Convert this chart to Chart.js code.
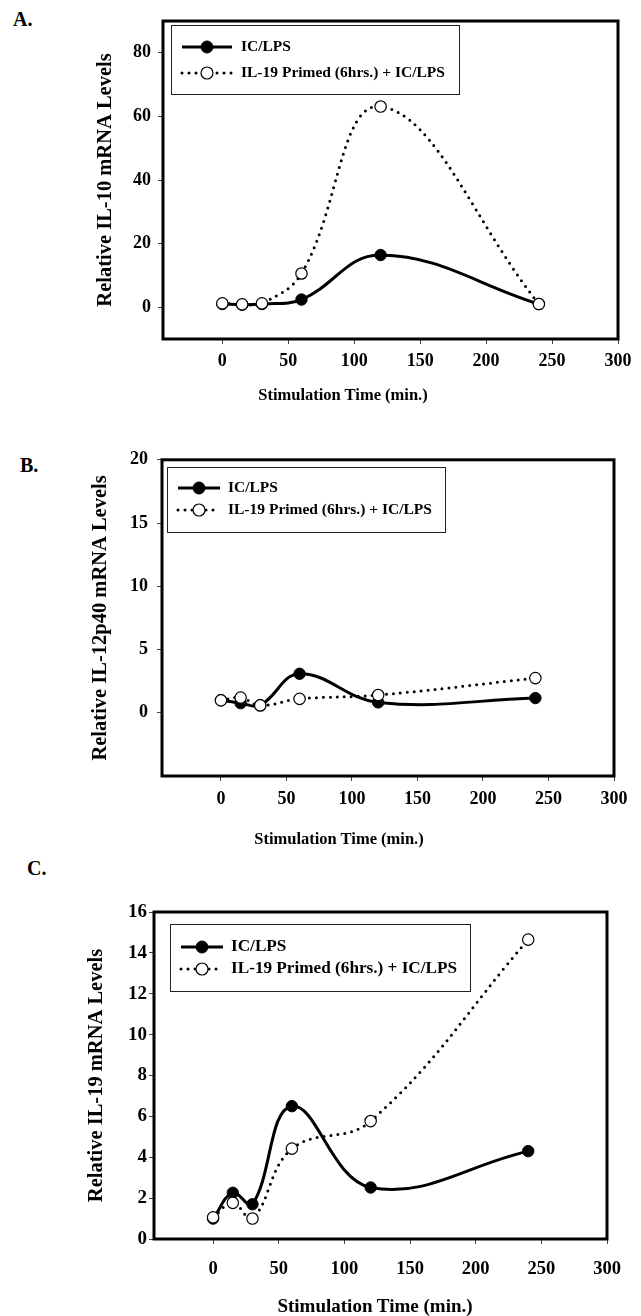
<!DOCTYPE html>
<html><head><meta charset="utf-8">
<script src="https://cdn.jsdelivr.net/npm/chart.js@4.4.1/dist/chart.umd.min.js"></script>
<style>
html,body{margin:0;padding:0;background:#fff;}
body{position:relative;width:641px;height:1316px;overflow:hidden;font-family:'Liberation Serif','Times New Roman',serif;font-weight:bold;color:#000;}
canvas{position:absolute;left:0;}
.lbl{position:absolute;white-space:nowrap;line-height:1;}
.xt{position:absolute;width:360px;text-align:center;white-space:nowrap;line-height:1;}
</style></head><body>
<div class="lbl" style="left:13px;top:9px;font-size:20px">A.</div>
<div class="lbl" style="left:20px;top:455px;font-size:20px">B.</div>
<div class="lbl" style="left:27px;top:858px;font-size:20px">C.</div>
<canvas id="cA" width="641" height="420" style="top:0px"></canvas>
<canvas id="cB" width="641" height="420" style="top:440px"></canvas>
<canvas id="cC" width="641" height="436" style="top:880px"></canvas>
<div class="xt" id="xtA" style="left:163px;top:387px;font-size:16.5px"></div>
<div class="xt" id="xtB" style="left:159px;top:831px;font-size:16.5px"></div>
<div class="xt" id="xtC" style="left:195px;top:1296px;font-size:19px"></div>
<script>
// ---- data ----
const times = [0, 15, 30, 60, 120, 240];
const seriesNames = ['IC/LPS', 'IL-19 Primed (6hrs.) + IC/LPS'];
const il10IcLps  = [1.0, 0.8, 1.0, 2.4, 16.4, 1.0];
const il10Primed = [1.2, 0.9, 1.2, 10.6, 63.1, 1.0];
const il12IcLps  = [1.0, 0.76, 0.6, 3.08, 0.82, 1.16];
const il12Primed = [0.98, 1.2, 0.58, 1.1, 1.4, 2.74];
const il19IcLps  = [1.0, 2.26, 1.7, 6.5, 2.52, 4.3];
const il19Primed = [1.06, 1.77, 1.0, 4.42, 5.77, 14.65];
const xTickValues = [0, 50, 100, 150, 200, 250, 300];
const yTicksA = [0, 20, 40, 60, 80];
const yTicksB = [0, 5, 10, 15, 20];
const yTicksC = [0, 2, 4, 6, 8, 10, 12, 14, 16];
const yTitleA = 'Relative IL-10 mRNA Levels';
const yTitleB = 'Relative IL-12p40 mRNA Levels';
const yTitleC = 'Relative IL-19 mRNA Levels';
const xTitle = 'Stimulation Time (min.)';

document.getElementById('xtA').textContent = xTitle;
document.getElementById('xtB').textContent = xTitle;
document.getElementById('xtC').textContent = xTitle;

const FAM = "'Liberation Serif','Times New Roman',serif";

const framePlugin = {
  id: 'frame',
  beforeDatasetsDraw(chart) {
    const {left, top, right, bottom} = chart.chartArea;
    const ctx = chart.ctx;
    ctx.save();
    ctx.strokeStyle = '#000';
    ctx.lineWidth = 3;
    ctx.strokeRect(left, top, right - left, bottom - top);
    ctx.restore();
  }
};

const boxLegend = {
  id: 'boxLegend',
  afterDraw(chart, args, o) {
    if (!o || !o.rows) return;
    const ctx = chart.ctx;
    ctx.save();
    ctx.fillStyle = '#fff';
    ctx.fillRect(o.x, o.y, o.w, o.h);
    ctx.strokeStyle = '#222';
    ctx.lineWidth = 1;
    ctx.strokeRect(o.x + 0.5, o.y + 0.5, o.w, o.h);
    chart.data.datasets.forEach((ds, i) => {
      const cy = o.rows[i];
      ctx.beginPath();
      ctx.setLineDash(ds.borderDash || []);
      ctx.lineCap = ds.borderCapStyle || 'butt';
      ctx.lineWidth = ds.borderWidth;
      ctx.strokeStyle = ds.borderColor;
      ctx.moveTo(o.x1, cy);
      ctx.lineTo(o.x2, cy);
      ctx.stroke();
      ctx.setLineDash([]);
      ctx.beginPath();
      ctx.arc((o.x1 + o.x2) / 2, cy, o.r, 0, Math.PI * 2);
      ctx.fillStyle = ds.pointBackgroundColor;
      ctx.fill();
      ctx.lineWidth = ds.pointBorderWidth;
      ctx.strokeStyle = ds.pointBorderColor;
      ctx.stroke();
      ctx.fillStyle = '#000';
      ctx.font = 'bold ' + o.fontSize + 'px ' + FAM;
      ctx.textBaseline = 'middle';
      ctx.textAlign = 'left';
      ctx.fillText(ds.label, o.tx, cy);
    });
    ctx.restore();
  }
};

function makeChart(id, P) {
  const solid = {
    label: seriesNames[0],
    data: times.map((t, i) => ({x: t, y: P.s1[i]})),
    borderColor: '#000', borderWidth: 3, tension: 0.4, fill: false,
    pointRadius: 5.7, pointBackgroundColor: '#000', pointBorderColor: '#000', pointBorderWidth: 1,
    order: 1
  };
  const dotted = {
    label: seriesNames[1],
    data: times.map((t, i) => ({x: t, y: P.s2[i]})),
    borderColor: '#000', borderWidth: 3, borderDash: [0, 7], borderCapStyle: 'round', tension: 0.4, fill: false,
    pointRadius: 5.7, pointBackgroundColor: '#fff', pointBorderColor: '#000', pointBorderWidth: 1.2,
    order: 0
  };
  const gridOpt = {display: true, drawOnChartArea: false, drawTicks: true, tickLength: 5, color: '#444', lineWidth: 1};
  return new Chart(document.getElementById(id), {
    type: 'line',
    data: {datasets: [solid, dotted]},
    options: {
      responsive: false, animation: false, devicePixelRatio: 1,
      layout: {padding: {top: P.top, right: P.right, left: 0, bottom: 0}},
      plugins: {legend: {display: false}, tooltip: {enabled: false}, boxLegend: P.legend},
      scales: {
        x: {
          type: 'linear', min: -45, max: 300,
          afterBuildTicks: s => { s.ticks = xTickValues.map(v => ({value: v})); },
          afterFit: s => { s.height = P.xH; },
          border: {display: false},
          grid: gridOpt,
          ticks: {color: '#000', font: {family: FAM, weight: 'bold', size: P.xTickSize}, padding: P.xPad, maxRotation: 0, autoSkip: false}
        },
        y: {
          type: 'linear', min: P.yMin, max: P.yMax,
          afterBuildTicks: s => { s.ticks = P.yTicks.map(v => ({value: v})); },
          afterFit: s => { s.width = P.left; },
          border: {display: false},
          grid: gridOpt,
          title: {display: true, text: P.yTitle, color: '#000', font: {family: FAM, weight: 'bold', size: P.yTitleSize}, padding: {top: P.ytPad, bottom: 0}},
          ticks: {color: '#000', font: {family: FAM, weight: 'bold', size: P.yTickSize}, padding: P.yPad, autoSkip: false}
        }
      }
    },
    plugins: [framePlugin, boxLegend]
  });
}

makeChart('cA', {
  s1: il10IcLps, s2: il10Primed, yMin: -10, yMax: 90, yTicks: yTicksA, yTitle: yTitleA,
  top: 21, right: 23, left: 163, xH: 81,
  xTickSize: 18, yTickSize: 18, xPad: 7, yPad: 7, yTitleSize: 20.5, ytPad: 93.5,
  legend: {x: 171, y: 25, w: 288, h: 69, rows: [47, 73], x1: 182, x2: 232, r: 6, tx: 241, fontSize: 15.5}
});
makeChart('cB', {
  s1: il12IcLps, s2: il12Primed, yMin: -5, yMax: 20, yTicks: yTicksB, yTitle: yTitleB,
  top: 19, right: 27, left: 162, xH: 84,
  xTickSize: 18, yTickSize: 18, xPad: 8, yPad: 9, yTitleSize: 20.5, ytPad: 88,
  legend: {x: 167, y: 27, w: 278, h: 65, rows: [48, 70], x1: 178, x2: 220, r: 6, tx: 228, fontSize: 15.5}
});
makeChart('cC', {
  s1: il19IcLps, s2: il19Primed, yMin: 0, yMax: 16, yTicks: yTicksC, yTitle: yTitleC,
  top: 32, right: 34, left: 154, xH: 77,
  xTickSize: 18.5, yTickSize: 19, xPad: 14, yPad: 2, yTitleSize: 20.5, ytPad: 84,
  legend: {x: 170, y: 44, w: 300, h: 67, rows: [67, 89], x1: 181, x2: 223, r: 6, tx: 231, fontSize: 17.2}
});
</script>
</body></html>
